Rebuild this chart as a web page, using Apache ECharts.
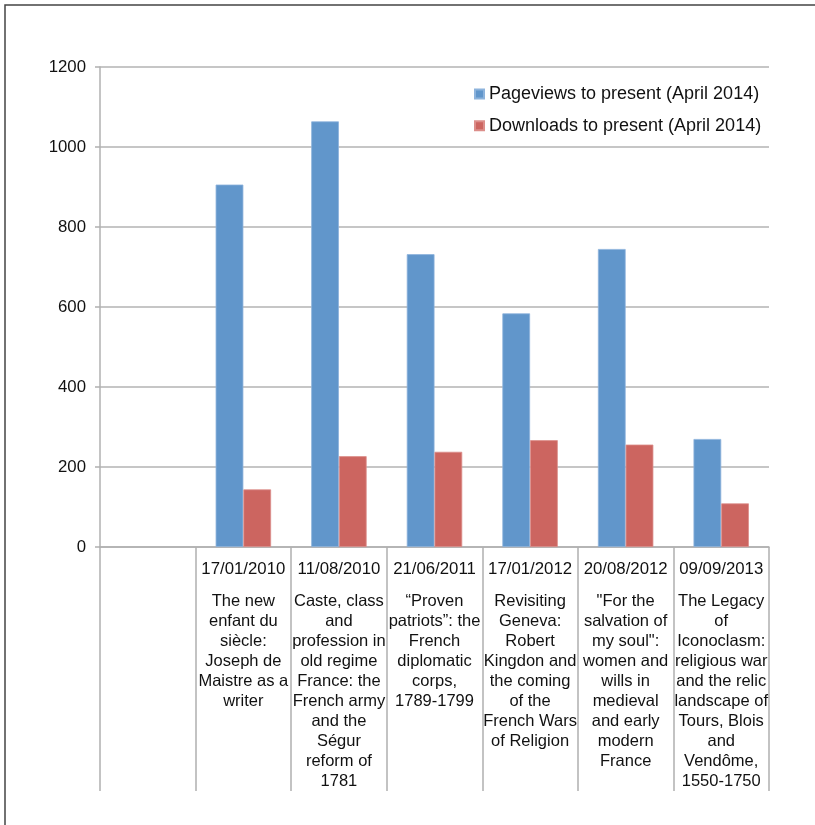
<!DOCTYPE html>
<html>
<head>
<meta charset="utf-8">
<script src="https://cdn.jsdelivr.net/npm/echarts@6/dist/echarts.min.js"></script>
<style>html,body{margin:0;padding:0;background:#fff;}#c{width:815px;height:825px;}</style>
</head>
<body>
<div id="c"></div>
<script>
const dates = ['', '17/01/2010', '11/08/2010', '21/06/2011', '17/01/2012', '20/08/2012', '09/09/2013'];
const titles = [
  '',
  'The new\nenfant du\nsiècle:\nJoseph de\nMaistre as a\nwriter',
  'Caste, class\nand\nprofession in\nold regime\nFrance: the\nFrench army\nand the\nSégur\nreform of\n1781',
  '“Proven\npatriots”: the\nFrench\ndiplomatic\ncorps,\n1789-1799',
  'Revisiting\nGeneva:\nRobert\nKingdon and\nthe coming\nof the\nFrench Wars\nof Religion',
  '"For the\nsalvation of\nmy soul":\nwomen and\nwills in\nmedieval\nand early\nmodern\nFrance',
  'The Legacy\nof\nIconoclasm:\nreligious war\nand the relic\nlandscape of\nTours, Blois\nand\nVendôme,\n1550-1750'
];
const pageviews = [null, 906, 1064, 732, 584, 745, 270];
const downloads = [null, 144, 227, 238, 267, 256, 109];
const seriesNames = ['Pageviews to present (April 2014)', 'Downloads to present (April 2014)'];
const yTicks = { min: 0, max: 1200, interval: 200 };

const FONT = '"Liberation Sans", Arial, sans-serif';
const chart = echarts.init(document.getElementById('c'), null, { renderer: 'canvas' });
chart.setOption({
  backgroundColor: '#fff',
  animation: false,
  textStyle: { fontFamily: FONT },
  grid: { left: 100, right: 46, top: 67, bottom: 278, containLabel: false },
  legend: {
    orient: 'vertical',
    left: 474,
    top: 83,
    padding: 0,
    icon: 'rect',
    itemWidth: 9,
    itemHeight: 9,
    itemGap: 9.7,
    textStyle: { fontFamily: FONT, fontSize: 18, color: '#111', lineHeight: 22 },
    data: seriesNames
  },
  xAxis: {
    type: 'category',
    data: dates.map((d, i) => i),
    axisLine: { lineStyle: { color: '#b0b0b0', width: 1.5 } },
    axisTick: { show: true, length: 244, lineStyle: { color: '#b0b0b0', width: 1.5 } },
    axisLabel: {
      interval: 0,
      margin: 0,
      color: '#111',
      fontFamily: FONT,
      fontSize: 16.5,
      formatter: function (v, idx) {
        if (!dates[idx]) return '';
        return '{d|' + dates[idx] + '}\n{t|' + titles[idx] + '}';
      },
      rich: {
        d: { fontSize: 16.8, lineHeight: 44, fontFamily: FONT, color: '#111', align: 'center' },
        t: { fontSize: 16.5, lineHeight: 20, fontFamily: FONT, color: '#111', align: 'center' }
      }
    },
    splitLine: { show: false }
  },
  yAxis: {
    type: 'value',
    min: yTicks.min,
    max: yTicks.max,
    interval: yTicks.interval,
    axisLine: { show: true, lineStyle: { color: '#b0b0b0', width: 1.5 } },
    axisTick: { show: true, length: 5, lineStyle: { color: '#b0b0b0', width: 1.5 } },
    axisLabel: { margin: 14, fontSize: 16.8, color: '#111', fontFamily: FONT, formatter: function (v) { return String(v); } },
    splitLine: { show: true, lineStyle: { color: '#b3b3b3', width: 1.5 } }
  },
  series: [
    {
      name: seriesNames[0], type: 'bar', data: pageviews,
      barGap: '0%', barCategoryGap: '42%',
      itemStyle: { color: '#6196CB', borderColor: '#8db3dc', borderWidth: 0.8 }
    },
    {
      name: seriesNames[1], type: 'bar', data: downloads,
      barGap: '0%', barCategoryGap: '42%',
      itemStyle: { color: '#CC6560', borderColor: '#dc8e8a', borderWidth: 0.8 }
    }
  ],
  graphic: [
    { type: 'polyline', shape: { points: [[5, 825], [5, 5], [815, 5]] }, style: { stroke: '#444', lineWidth: 1.5, fill: null } }
  ]
});
</script>
</body>
</html>
